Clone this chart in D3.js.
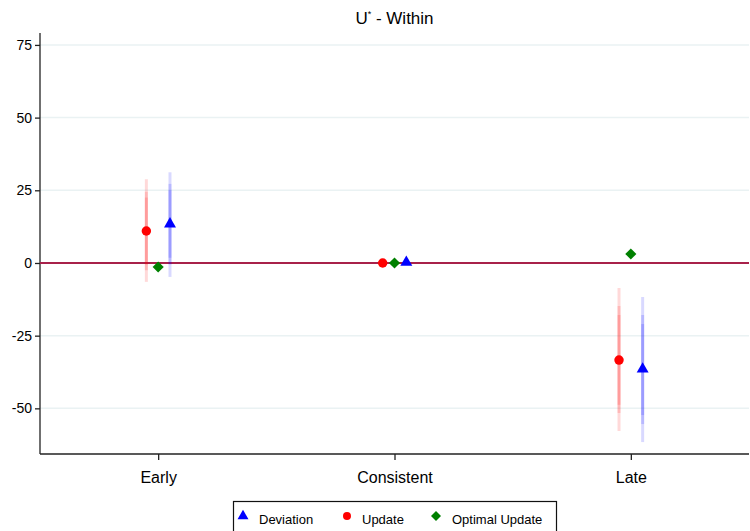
<!DOCTYPE html>
<html>
<head>
<meta charset="utf-8">
<script src="https://cdn.jsdelivr.net/npm/d3@7"></script>
<style>
  body { margin: 0; background: #fff; }
  svg { display: block; font-family: "Liberation Sans", Arial, sans-serif; }
</style>
</head>
<body>
<svg id="chart" width="750" height="531"></svg>
<script>
// categories and tick labels
var categories = ["Early", "Consistent", "Late"];
var yTicks = [-50, -25, 0, 25, 50, 75];

// point estimates
var deviation = [13.4, 0.2, -36.5];
var update = [11.0, 0.0, -33.4];
var optimal = [-1.4, 0.0, 3.1];

// confidence bands (99 / 95 / 90)
var updateLo99 = [-6.5, 0, -57.8], updateHi99 = [28.8, 0, -8.6];
var updateLo95 = [-2.5, 0, -51.6], updateHi95 = [24.5, 0, -14.8];
var updateLo90 = [-0.5, 0, -48.8], updateHi90 = [22.5, 0, -17.9];
var deviationLo99 = [-4.8, 0, -61.6], deviationHi99 = [31.2, 0, -11.7];
var deviationLo95 = [-0.5, 0, -55.4], deviationHi95 = [27.2, 0, -17.9];
var deviationLo90 = [1.8, 0, -52.3], deviationHi90 = [25.0, 0, -21.0];

var svg = d3.select("#chart");
var pLeft = 40, pRight = 749, pTop = 33, pBottom = 454;

var x = d3.scaleLinear().domain([0.5, 3.5]).range([pLeft, pRight]);
var y = d3.scaleLinear().domain([-65.7, 79.1]).range([pBottom, pTop]);

// grid
svg.append("g").selectAll("line").data(yTicks).enter().append("line")
  .attr("x1", pLeft).attr("x2", pRight)
  .attr("y1", function (d) { return y(d); })
  .attr("y2", function (d) { return y(d); })
  .attr("stroke", "#eaf2f3")
  .attr("stroke-width", 1.5);

// axes
var yAxis = d3.axisLeft(y).tickValues(yTicks).tickSize(5).tickPadding(3)
  .tickFormat(function (d) { return String(d); });
var gy = svg.append("g").attr("transform", "translate(" + pLeft + ",0)").call(yAxis);
gy.select(".domain").attr("d", "M0," + pTop + "V" + pBottom);
gy.selectAll("text").attr("font-size", 14).attr("fill", "#000")
  .attr("font-family", "Liberation Sans, Arial, sans-serif");

var xAxis = d3.axisBottom(x).tickValues([1, 2, 3]).tickSize(6).tickPadding(12)
  .tickFormat(function (d) { return categories[d - 1]; });
var gx = svg.append("g").attr("transform", "translate(0," + pBottom + ")").call(xAxis);
gx.select(".domain").attr("d", "M" + pLeft + ",0H" + pRight);
gx.selectAll("text").attr("font-size", 16).attr("fill", "#000")
  .attr("font-family", "Liberation Sans, Arial, sans-serif");
svg.selectAll(".domain, .tick line").attr("stroke", "#222").attr("stroke-width", 1.3);

// zero line
svg.append("line")
  .attr("x1", pLeft).attr("x2", pRight)
  .attr("y1", y(0)).attr("y2", y(0))
  .attr("stroke", "#a8214a").attr("stroke-width", 2);

// confidence bands
function bands(lo, hi, off, color) {
  var idx = d3.range(categories.length);
  svg.append("g").selectAll("line").data(idx).enter().append("line")
    .attr("x1", function (i) { return x(i + 1 + off); })
    .attr("x2", function (i) { return x(i + 1 + off); })
    .attr("y1", function (i) { return y(lo[i]); })
    .attr("y2", function (i) { return y(hi[i]); })
    .attr("stroke", color)
    .attr("stroke-opacity", 0.15)
    .attr("stroke-width", 3);
}
bands(updateLo99, updateHi99, -0.05, "#ff0000");
bands(updateLo95, updateHi95, -0.05, "#ff0000");
bands(updateLo90, updateHi90, -0.05, "#ff0000");
bands(deviationLo99, deviationHi99, 0.05, "#0000ff");
bands(deviationLo95, deviationHi95, 0.05, "#0000ff");
bands(deviationLo90, deviationHi90, 0.05, "#0000ff");

// markers
function points(vals, off, shape, size, color) {
  var sym = d3.symbol().type(shape).size(size);
  svg.append("g").selectAll("path").data(vals).enter().append("path")
    .attr("d", sym)
    .attr("transform", function (d, i) {
      var r = shape === d3.symbolSquare ? " rotate(45)" : "";
      return "translate(" + x(i + 1 + off) + "," + y(d) + ")" + r;
    })
    .attr("fill", color);
}
points(update, -0.05, d3.symbolCircle, 70, "#ff0000");
points(optimal, 0, d3.symbolSquare, 62, "#008000");
points(deviation, 0.05, d3.symbolTriangle, 62, "#0000ff");

// title
svg.append("text")
  .attr("x", (pLeft + pRight) / 2).attr("y", 24)
  .attr("text-anchor", "middle").attr("font-size", 17)
  .html('U<tspan font-size="9" dy="-7">*</tspan><tspan dy="7"> - Within</tspan>');

// legend
var legend = svg.append("g");
legend.append("rect")
  .attr("x", 233.5).attr("y", 501.5).attr("width", 323).attr("height", 40)
  .attr("fill", "#fff").attr("stroke", "#111").attr("stroke-width", 1.2);
var legendItems = [
  { name: "Deviation", shape: d3.symbolTriangle, size: 52, color: "#0000ff", mx: 243, tx: 259 },
  { name: "Update", shape: d3.symbolCircle, size: 50, color: "#ff0000", mx: 347, tx: 362 },
  { name: "Optimal Update", shape: d3.symbolSquare, size: 50, color: "#008000", mx: 436, tx: 452 }
];
legendItems.forEach(function (it) {
  legend.append("path")
    .attr("d", d3.symbol().type(it.shape).size(it.size))
    .attr("transform", "translate(" + it.mx + ",516)" + (it.shape === d3.symbolSquare ? " rotate(45)" : ""))
    .attr("fill", it.color);
  legend.append("text")
    .attr("x", it.tx).attr("y", 524)
    .attr("font-size", 13)
    .text(it.name);
});
</script>
</body>
</html>
